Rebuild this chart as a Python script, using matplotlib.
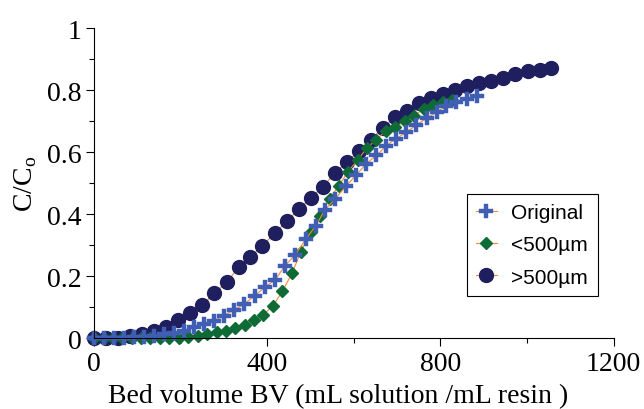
import numpy as np
import matplotlib
matplotlib.use("Agg")
import matplotlib.pyplot as plt
from matplotlib.ticker import MultipleLocator, FuncFormatter

# Original resin
orig_bv = [0, 23, 46, 69, 92, 115, 138, 161, 184, 207, 230, 254, 277, 300, 324, 347, 371, 394,
           418, 441, 465, 489, 512, 533, 557, 581, 605, 628, 652, 675, 697, 721, 744, 768, 791, 813,
           836, 861, 884]
orig_c = [0, 0, 0, 0.002, 0.004, 0.006, 0.009, 0.013, 0.019, 0.025, 0.036, 0.047, 0.057, 0.074,
          0.093, 0.111, 0.138, 0.165, 0.188, 0.235, 0.270, 0.320, 0.363, 0.414, 0.450, 0.490, 0.526,
          0.562, 0.590, 0.621, 0.644, 0.664, 0.688, 0.709, 0.730, 0.749, 0.761, 0.772, 0.782]

# <500 um fraction
small_bv = [0, 22, 43, 65, 87, 109, 130, 152, 174, 196, 217, 239, 261, 283, 304, 326, 348, 370,
            391, 413, 435, 457, 478, 500, 522, 544, 565, 587, 609, 631, 652, 674, 696, 718, 739,
            761, 783, 805, 826]
small_c = [0, 0, 0, 0, 0, 0, 0, 0, 0, 0.001, 0.004, 0.009, 0.013, 0.020, 0.025, 0.035, 0.045,
           0.058, 0.077, 0.105, 0.152, 0.210, 0.280, 0.342, 0.396, 0.450, 0.492, 0.538, 0.576,
           0.615, 0.641, 0.669, 0.681, 0.701, 0.718, 0.740, 0.752, 0.762, 0.767]

# >500 um fraction
large_bv = [0, 28, 56, 83, 111, 139, 167, 195, 222, 250, 278, 306, 334, 361, 389, 417, 445, 473,
            500, 528, 556, 584, 612, 639, 667, 695, 723, 751, 778, 806, 834, 862, 890, 917, 945,
            973, 1001, 1029, 1056]
large_c = [0, 0, 0.001, 0.007, 0.015, 0.025, 0.036, 0.060, 0.082, 0.108, 0.145, 0.181, 0.229,
           0.262, 0.299, 0.339, 0.377, 0.417, 0.452, 0.489, 0.532, 0.570, 0.603, 0.641, 0.678,
           0.713, 0.732, 0.758, 0.774, 0.788, 0.802, 0.815, 0.824, 0.830, 0.840, 0.853, 0.863,
           0.866, 0.871]

line_col = '#F28A3E'

fig = plt.figure(figsize=(6.44, 4.10), dpi=100)
ax = fig.add_axes([0.146, 0.172, 0.807, 0.757])

h3, = ax.plot(large_bv, large_c, color=line_col, lw=0.8, marker='o', ms=10,
              mfc='#1F1F5F', mec='#1F1F5F', clip_on=False, label='>500\u00b5m')
h2, = ax.plot(small_bv, small_c, color=line_col, lw=0.8, marker='D', ms=6,
              mfc='#0E6B36', mec='#0E6B36', clip_on=False, label='<500\u00b5m')
h1, = ax.plot(orig_bv, orig_c, color=line_col, lw=0.8, marker='P', ms=9.5,
              mfc='#3F5EB4', mec='#3F5EB4', mew=0.3, clip_on=False, label='Original')

ax.set_xlim(0, 1200)
ax.set_ylim(0, 1)
ax.xaxis.set_major_locator(MultipleLocator(400))
ax.xaxis.set_minor_locator(MultipleLocator(200))
ax.yaxis.set_major_locator(MultipleLocator(0.2))
ax.yaxis.set_minor_locator(MultipleLocator(0.1))
ax.yaxis.set_major_formatter(FuncFormatter(lambda v, p: f'{v:g}'))

for s in ['top', 'right']:
    ax.spines[s].set_visible(False)
for s in ['left', 'bottom']:
    ax.spines[s].set_linewidth(0.8)

serif = 'Liberation Serif'
ax.tick_params(which='major', direction='out', length=6, width=0.8, pad=3, labelsize=20)
ax.tick_params(which='minor', direction='out', length=3.5, width=0.8)
for lab in ax.get_xticklabels() + ax.get_yticklabels():
    lab.set_family(serif)

ax.set_xlabel('Bed volume BV (mL solution /mL resin )', family=serif, fontsize=20)
ax.xaxis.set_label_coords(0.469, -0.145)
ax.set_ylabel('C/C$_\\mathregular{o}$', family=serif, fontsize=20)
ax.yaxis.set_label_coords(-0.105, 0.50)

leg = ax.legend(handles=[h1, h2, h3], loc='lower right', bbox_to_anchor=(0.969, 0.137),
                prop={'family': 'Liberation Sans', 'size': 15}, fancybox=False,
                edgecolor='black', framealpha=1, borderpad=0.45, handlelength=1.0,
                handletextpad=0.7, labelspacing=0.64, borderaxespad=0)
leg.get_frame().set_linewidth(0.8)

fig.savefig('out.png', dpi=100)
